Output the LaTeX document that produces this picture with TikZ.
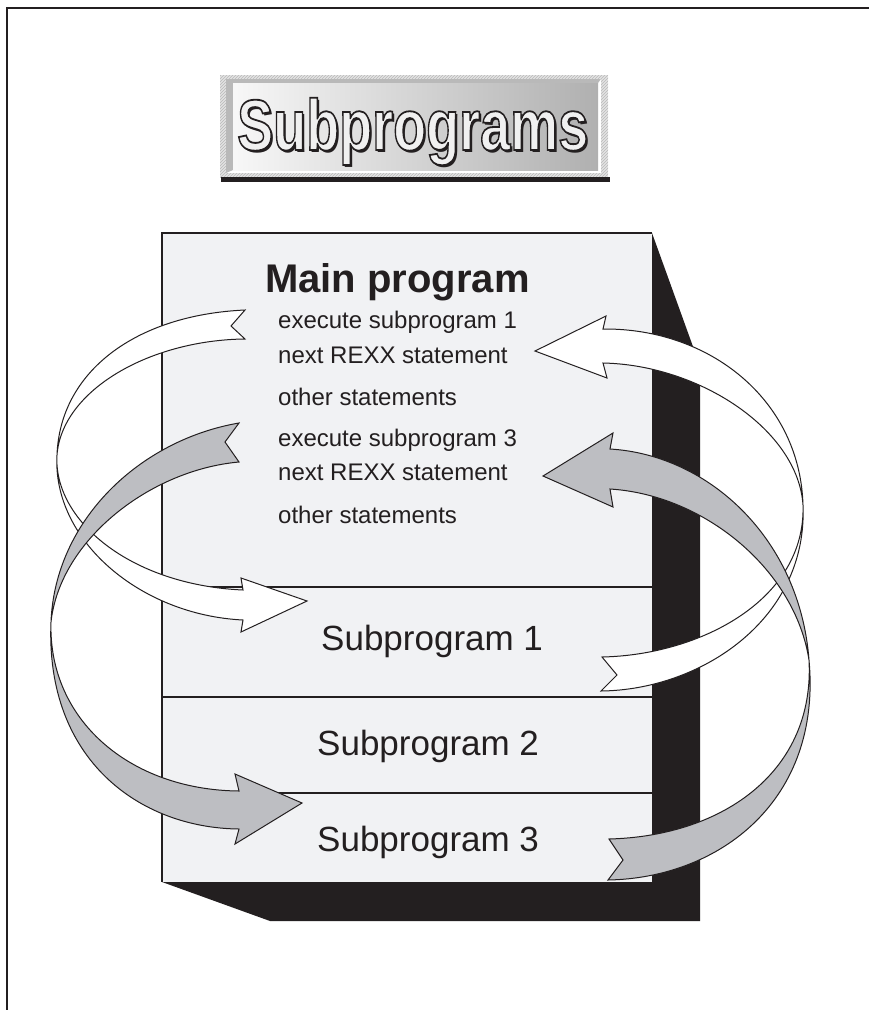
\documentclass[tikz,border=0pt]{standalone}
\usepackage{fontspec}
\setmainfont{Liberation Sans}
\usetikzlibrary{patterns}

\definecolor{ink}{HTML}{231F20}
\definecolor{panel}{HTML}{F1F2F4}
\definecolor{ribbongray}{HTML}{BDBEC2}

\tikzset{
  frameline/.style={draw=ink, line width=2.5pt},
  ribbon/.style={draw=ink, line width=1pt, line join=miter, miter limit=10},
  whiteribbon/.style={ribbon, fill=white},
  grayribbon/.style={ribbon, fill=ribbongray},
  stmt/.style={anchor=base west, inner sep=0pt, text=ink, font=\fontsize{24}{28}\selectfont},
  sublabel/.style={anchor=base west, inner sep=0pt, text=ink, font=\fontsize{35}{40}\selectfont},
  titleglyph/.style={anchor=base west, inner sep=0pt},
}

\newcommand\bannertext{\scalebox{0.75}[1]{\fontsize{72}{80}\selectfont\bfseries Subprograms}}
% banner lettering filled and stroked with a dark outline
\newcommand\strokedbanner{\special{pdf:literal direct 2 Tr 1.8 w 0.137 0.122 0.125 RG}\bannertext\special{pdf:literal direct 0 Tr}}
% dark drop shadow set behind the lettering, offset down and right
\newcommand\bannershadow{\makebox[0pt][l]{\hspace{2.6pt}\raisebox{-2.6pt}{\textcolor{ink}{\bannertext}}}}

\begin{document}
\begin{tikzpicture}[x=1pt,y=-1pt]
  \useasboundingbox (0,0) rectangle (869,1010);

  % page frame (top and left rules)
  \draw[frameline] (7,1010) -- (7,8) -- (869,8);

  % ---- title banner ----
  \fill[gray!22] (220,75) rectangle (608,177);
  \fill[pattern=north east lines, pattern color=gray!55] (220,75) rectangle (608,177);
  \fill[white] (226,79) rectangle (601,173);
  \fill[gray!55] (226,79) -- (601,79) -- (598,83) -- (233,83) -- (233,170) -- (226,173) -- cycle;
  \shade[left color=gray!6, right color=gray!62] (233,83) rectangle (598,170);
  \fill[ink] (221,177) rectangle (610,182);

  \node[titleglyph, text=gray!12] (title) at (237,150) {\bannershadow\strokedbanner};

  % ---- program block with its drop shadow ----
  \fill[ink] (162,233) -- (652,233) -- (700,366) -- (700,921) -- (270,921) -- (162,882) -- cycle;
  \fill[panel] (162,233) rectangle (652,882);
  \draw[frameline] (652,233) -- (162,233) -- (162,882);
  \draw[frameline] (162,587) -- (652,587);
  \draw[frameline] (162,697) -- (652,697);
  \draw[frameline] (162,793) -- (652,793);

  \node[anchor=base west, inner sep=0pt, text=ink, font=\fontsize{40}{44}\selectfont\bfseries]
    (mainhead) at (265,292) {Main program};
  \node[stmt] (call1)  at (278,328) {execute subprogram 1};
  \node[stmt] (next1)  at (278,363) {next REXX statement};
  \node[stmt] (other1) at (278,405) {other statements};
  \node[stmt] (call3)  at (278,446) {execute subprogram 3};
  \node[stmt] (next3)  at (278,480) {next REXX statement};
  \node[stmt] (other3) at (278,523) {other statements};

  \node[sublabel] (sub1) at (321,650) {Subprogram 1};
  \node[sublabel] (sub2) at (317,755) {Subprogram 2};
  \node[sublabel] (sub3) at (317,851) {Subprogram 3};

  % ---- call / return ribbons for subprogram 1 ----
  % call: from "execute subprogram 1" round the left side into Subprogram 1
  \path[whiteribbon]
    (245,310) .. controls (135,315) and (60,372) .. (57,455)
              .. controls (53,520) and (130,585) .. (243,590)
    -- (241,578) -- (307,601) -- (241,632) -- (243,620)
              .. controls (140,615) and (52,540) .. (57,455)
              .. controls (62,390) and (150,340) .. (245,339)
    -- (231,326) -- cycle;
  % return: from Subprogram 1 round the right side to the next statement
  \path[whiteribbon]
    (603,329) .. controls (710,328) and (800,400) .. (803,505)
              .. controls (806,600) and (700,655) .. (602,657)
    -- (617,675) -- (601,691)
              .. controls (700,690) and (808,620) .. (803,505)
              .. controls (798,430) and (700,365) .. (603,363)
    -- (607,378) -- (535,351) -- (606,316) -- cycle;

  % ---- call / return ribbons for subprogram 3 ----
  \path[grayribbon]
    (239,423) .. controls (140,440) and (55,520) .. (51,622)
              .. controls (48,720) and (130,790) .. (239,791)
    -- (235,774) -- (302,803) -- (235,844) -- (239,829)
              .. controls (140,828) and (45,760) .. (51,622)
              .. controls (60,540) and (150,470) .. (239,462)
    -- (225,442) -- cycle;
  \path[grayribbon]
    (610,449) .. controls (710,455) and (800,540) .. (809,660)
              .. controls (815,770) and (725,836) .. (609,839)
    -- (623,860) -- (608,880)
              .. controls (720,878) and (822,800) .. (809,660)
              .. controls (795,570) and (705,495) .. (610,489)
    -- (613,507) -- (543,476) -- (613,433) -- cycle;
\end{tikzpicture}
\end{document}
